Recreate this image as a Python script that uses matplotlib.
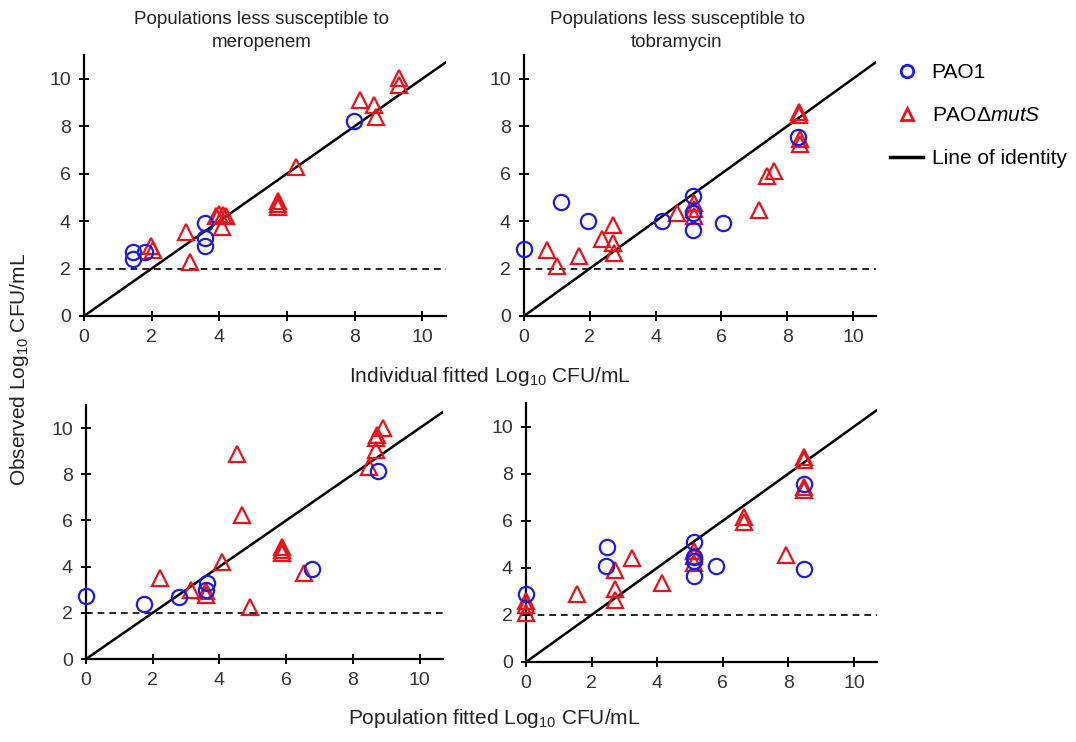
import matplotlib
matplotlib.use("Agg")
import matplotlib.pyplot as plt
from matplotlib.lines import Line2D

plt.rcParams['font.family'] = ['Liberation Sans', 'DejaVu Sans']
plt.rcParams['mathtext.fontset'] = 'custom'
plt.rcParams['mathtext.rm'] = 'Liberation Sans'
plt.rcParams['mathtext.it'] = 'Liberation Sans:italic'

BLUE = '#1c1ce0'
RED = '#e8141c'

# top left: meropenem, individual fit
mero_ind_pao1_x = [1.46, 1.46, 1.8, 3.58, 3.58, 3.58, 7.99]
mero_ind_pao1_y = [2.7, 2.4, 2.7, 3.92, 3.27, 2.94, 8.23]
mero_ind_mut_x = [1.97, 2.05, 3.02, 3.12, 3.9, 4.0, 4.1, 4.2, 4.07, 5.72, 5.72, 5.72,
                  6.27, 8.15, 8.58, 8.62, 9.3, 9.3]
mero_ind_mut_y = [2.95, 2.8, 3.55, 2.28, 4.2, 4.3, 4.25, 4.2, 3.76, 4.85, 4.7, 4.6,
                  6.29, 9.1, 8.89, 8.4, 10.05, 9.73]

# top right: tobramycin, individual fit
tobra_ind_pao1_x = [0.0, 1.11, 1.96, 4.21, 5.13, 5.13, 5.13, 6.04, 8.32]
tobra_ind_pao1_y = [2.81, 4.79, 4.01, 4.01, 5.07, 4.34, 3.63, 3.91, 7.54]
tobra_ind_mut_x = [0.71, 1.01, 1.67, 2.36, 2.72, 2.72, 2.74, 4.64, 5.18, 5.18, 5.18,
                   7.15, 7.38, 7.6, 8.37, 8.37, 8.39, 8.39]
tobra_ind_mut_y = [2.8, 2.12, 2.53, 3.25, 3.84, 3.09, 2.64, 4.34, 4.76, 4.5, 4.2,
                   4.45, 5.92, 6.1, 8.6, 8.46, 7.47, 7.23]

# bottom left: meropenem, population fit
mero_pop_pao1_x = [0.0, 1.74, 2.79, 3.64, 3.6, 6.78, 8.75]
mero_pop_pao1_y = [2.71, 2.38, 2.68, 3.29, 3.0, 3.91, 8.15]
mero_pop_mut_x = [2.22, 3.16, 3.59, 3.6, 4.09, 4.53, 4.69, 4.91, 5.88, 5.88, 5.88,
                  6.53, 8.48, 8.68, 8.7, 8.72, 8.9]
mero_pop_mut_y = [3.5, 2.97, 2.78, 2.95, 4.18, 8.89, 6.25, 2.24, 4.85, 4.7, 4.6,
                  3.72, 8.31, 9.03, 9.57, 9.7, 10.0]

# bottom right: tobramycin, population fit
tobra_pop_pao1_x = [0.0, 2.46, 2.44, 5.13, 5.13, 5.13, 5.13, 5.79, 8.48, 8.48]
tobra_pop_pao1_y = [2.88, 4.87, 4.07, 5.11, 4.47, 4.3, 3.65, 4.07, 7.56, 3.94]
tobra_pop_mut_x = [0.0, 0.0, 0.0, 1.55, 2.71, 2.71, 2.71, 3.22, 4.14, 5.13, 5.13,
                   5.13, 6.66, 6.66, 7.93, 8.48, 8.48, 8.48, 8.48]
tobra_pop_mut_y = [2.6, 2.4, 2.1, 2.88, 3.9, 3.12, 2.65, 4.4, 3.36, 4.7, 4.5,
                   4.2, 6.17, 5.95, 4.54, 8.72, 8.58, 7.45, 7.3]

titles = ['Populations less susceptible to\nmeropenem',
          'Populations less susceptible to\ntobramycin']
ticks = [0, 2, 4, 6, 8, 10]
lod = 2

W, H = 1076, 742
fig = plt.figure(figsize=(W / 100, H / 100), dpi=100)

# axes boxes in pixels: left, right, top, bottom
boxes = [(84, 446, 55, 316), (524, 876, 55, 316),
         (86, 443, 405, 659), (526, 877, 403, 662)]
panels = [
    (mero_ind_pao1_x, mero_ind_pao1_y, mero_ind_mut_x, mero_ind_mut_y),
    (tobra_ind_pao1_x, tobra_ind_pao1_y, tobra_ind_mut_x, tobra_ind_mut_y),
    (mero_pop_pao1_x, mero_pop_pao1_y, mero_pop_mut_x, mero_pop_mut_y),
    (tobra_pop_pao1_x, tobra_pop_pao1_y, tobra_pop_mut_x, tobra_pop_mut_y),
]
title_x = [262, 677]

for i, (box, data) in enumerate(zip(boxes, panels)):
    l, r, t, b = box
    ax = fig.add_axes([l / W, 1 - b / H, (r - l) / W, (b - t) / H])
    px, py, mx, my = data
    ax.plot([0, 10.7], [0, 10.7], color='black', lw=1.8, zorder=2)
    ax.axhline(lod, color='black', lw=1.2, ls=(0, (4, 3)), zorder=1)
    ax.plot(mx, my, ls='none', marker='^', ms=11, mfc='none', mec=RED, mew=1.6,
            clip_on=False, zorder=3)
    ax.plot(px, py, ls='none', marker='o', ms=11, mfc='none', mec=BLUE, mew=1.6,
            clip_on=False, zorder=4)
    ax.set_xlim(0, 10.7)
    ax.set_ylim(0, 11)
    ax.set_xticks(ticks)
    ax.set_yticks(ticks)
    for s in ['top', 'right']:
        ax.spines[s].set_visible(False)
    for s in ['left', 'bottom']:
        ax.spines[s].set_linewidth(1.6)
    ax.tick_params(direction='inout', length=7, width=1.4, labelsize=14,
                   labelcolor='#333333', pad=6)
    if i < 2:
        fig.text(title_x[i] / W, 1 - 31 / H, titles[i], ha='center', va='center',
                 fontsize=13.5, color='#222222', linespacing=1.45)

fig.text(490 / W, 1 - 377 / H, 'Individual fitted Log$_{10}$ CFU/mL',
         ha='center', va='center', fontsize=15, color='#222222')
fig.text(494 / W, 1 - 719 / H, 'Population fitted Log$_{10}$ CFU/mL',
         ha='center', va='center', fontsize=15, color='#222222')
fig.text(20 / W, 1 - 370 / H, 'Observed Log$_{10}$ CFU/mL', rotation=90,
         ha='center', va='center', fontsize=15, color='#222222')

handles = [
    Line2D([], [], ls='none', marker='o', ms=9, mfc='none', mec=BLUE, mew=2),
    Line2D([], [], ls='none', marker='^', ms=9, mfc='none', mec=RED, mew=2),
    Line2D([], [], color='black', lw=2.5),
]
labels = ['PAO1', 'PAO$\\mathit{Δ mutS}$', 'Line of identity']
fig.legend(handles, labels, loc='upper left', bbox_to_anchor=(890 / W, 1 - 63 / H),
           frameon=False, fontsize=15, handlelength=1.6, handletextpad=0.4,
           labelspacing=1.15, borderpad=0, borderaxespad=0)

fig.savefig('out.png', dpi=100)
